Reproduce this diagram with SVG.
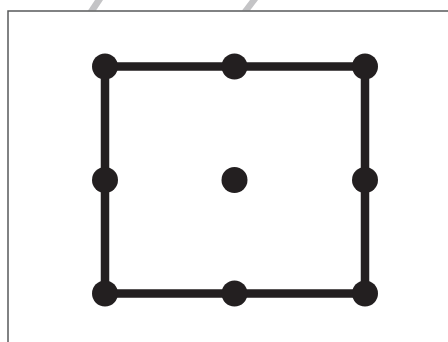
<svg xmlns="http://www.w3.org/2000/svg" width="448" height="342" viewBox="0 0 448 342">
  <style>
    .frame { fill: none; stroke: #58595b; stroke-width: 1.5; }
    .mark { fill: #c4c4c6; }
    .edge { stroke: #231f20; stroke-width: 8.5; fill: none; }
    .dot { fill: #231f20; }
  </style>
  <rect width="448" height="342" fill="#ffffff"/>
  <g id="frame">
    <path class="mark" d="M88,10.5 L96,10.5 L103,0 L95,0 Z"/>
    <path class="mark" d="M242,10.5 L250,10.5 L258,0 L250,0 Z"/>
    <path class="frame" d="M8,342 L8,11 L448,11"/>
  </g>
  <g id="connectors">
    <rect class="edge" x="105" y="66.5" width="260" height="227"/>
  </g>
  <g id="n1"><circle class="dot" cx="105" cy="66.5" r="13"/></g>
  <g id="n2"><circle class="dot" cx="234.5" cy="66.5" r="13"/></g>
  <g id="n3"><circle class="dot" cx="365" cy="66.5" r="13"/></g>
  <g id="n4"><circle class="dot" cx="105" cy="180" r="13"/></g>
  <g id="n5"><circle class="dot" cx="234.5" cy="180" r="13"/></g>
  <g id="n6"><circle class="dot" cx="365" cy="180" r="13"/></g>
  <g id="n7"><circle class="dot" cx="105" cy="293.5" r="13"/></g>
  <g id="n8"><circle class="dot" cx="234.5" cy="293.5" r="13"/></g>
  <g id="n9"><circle class="dot" cx="365" cy="293.5" r="13"/></g>
</svg>
